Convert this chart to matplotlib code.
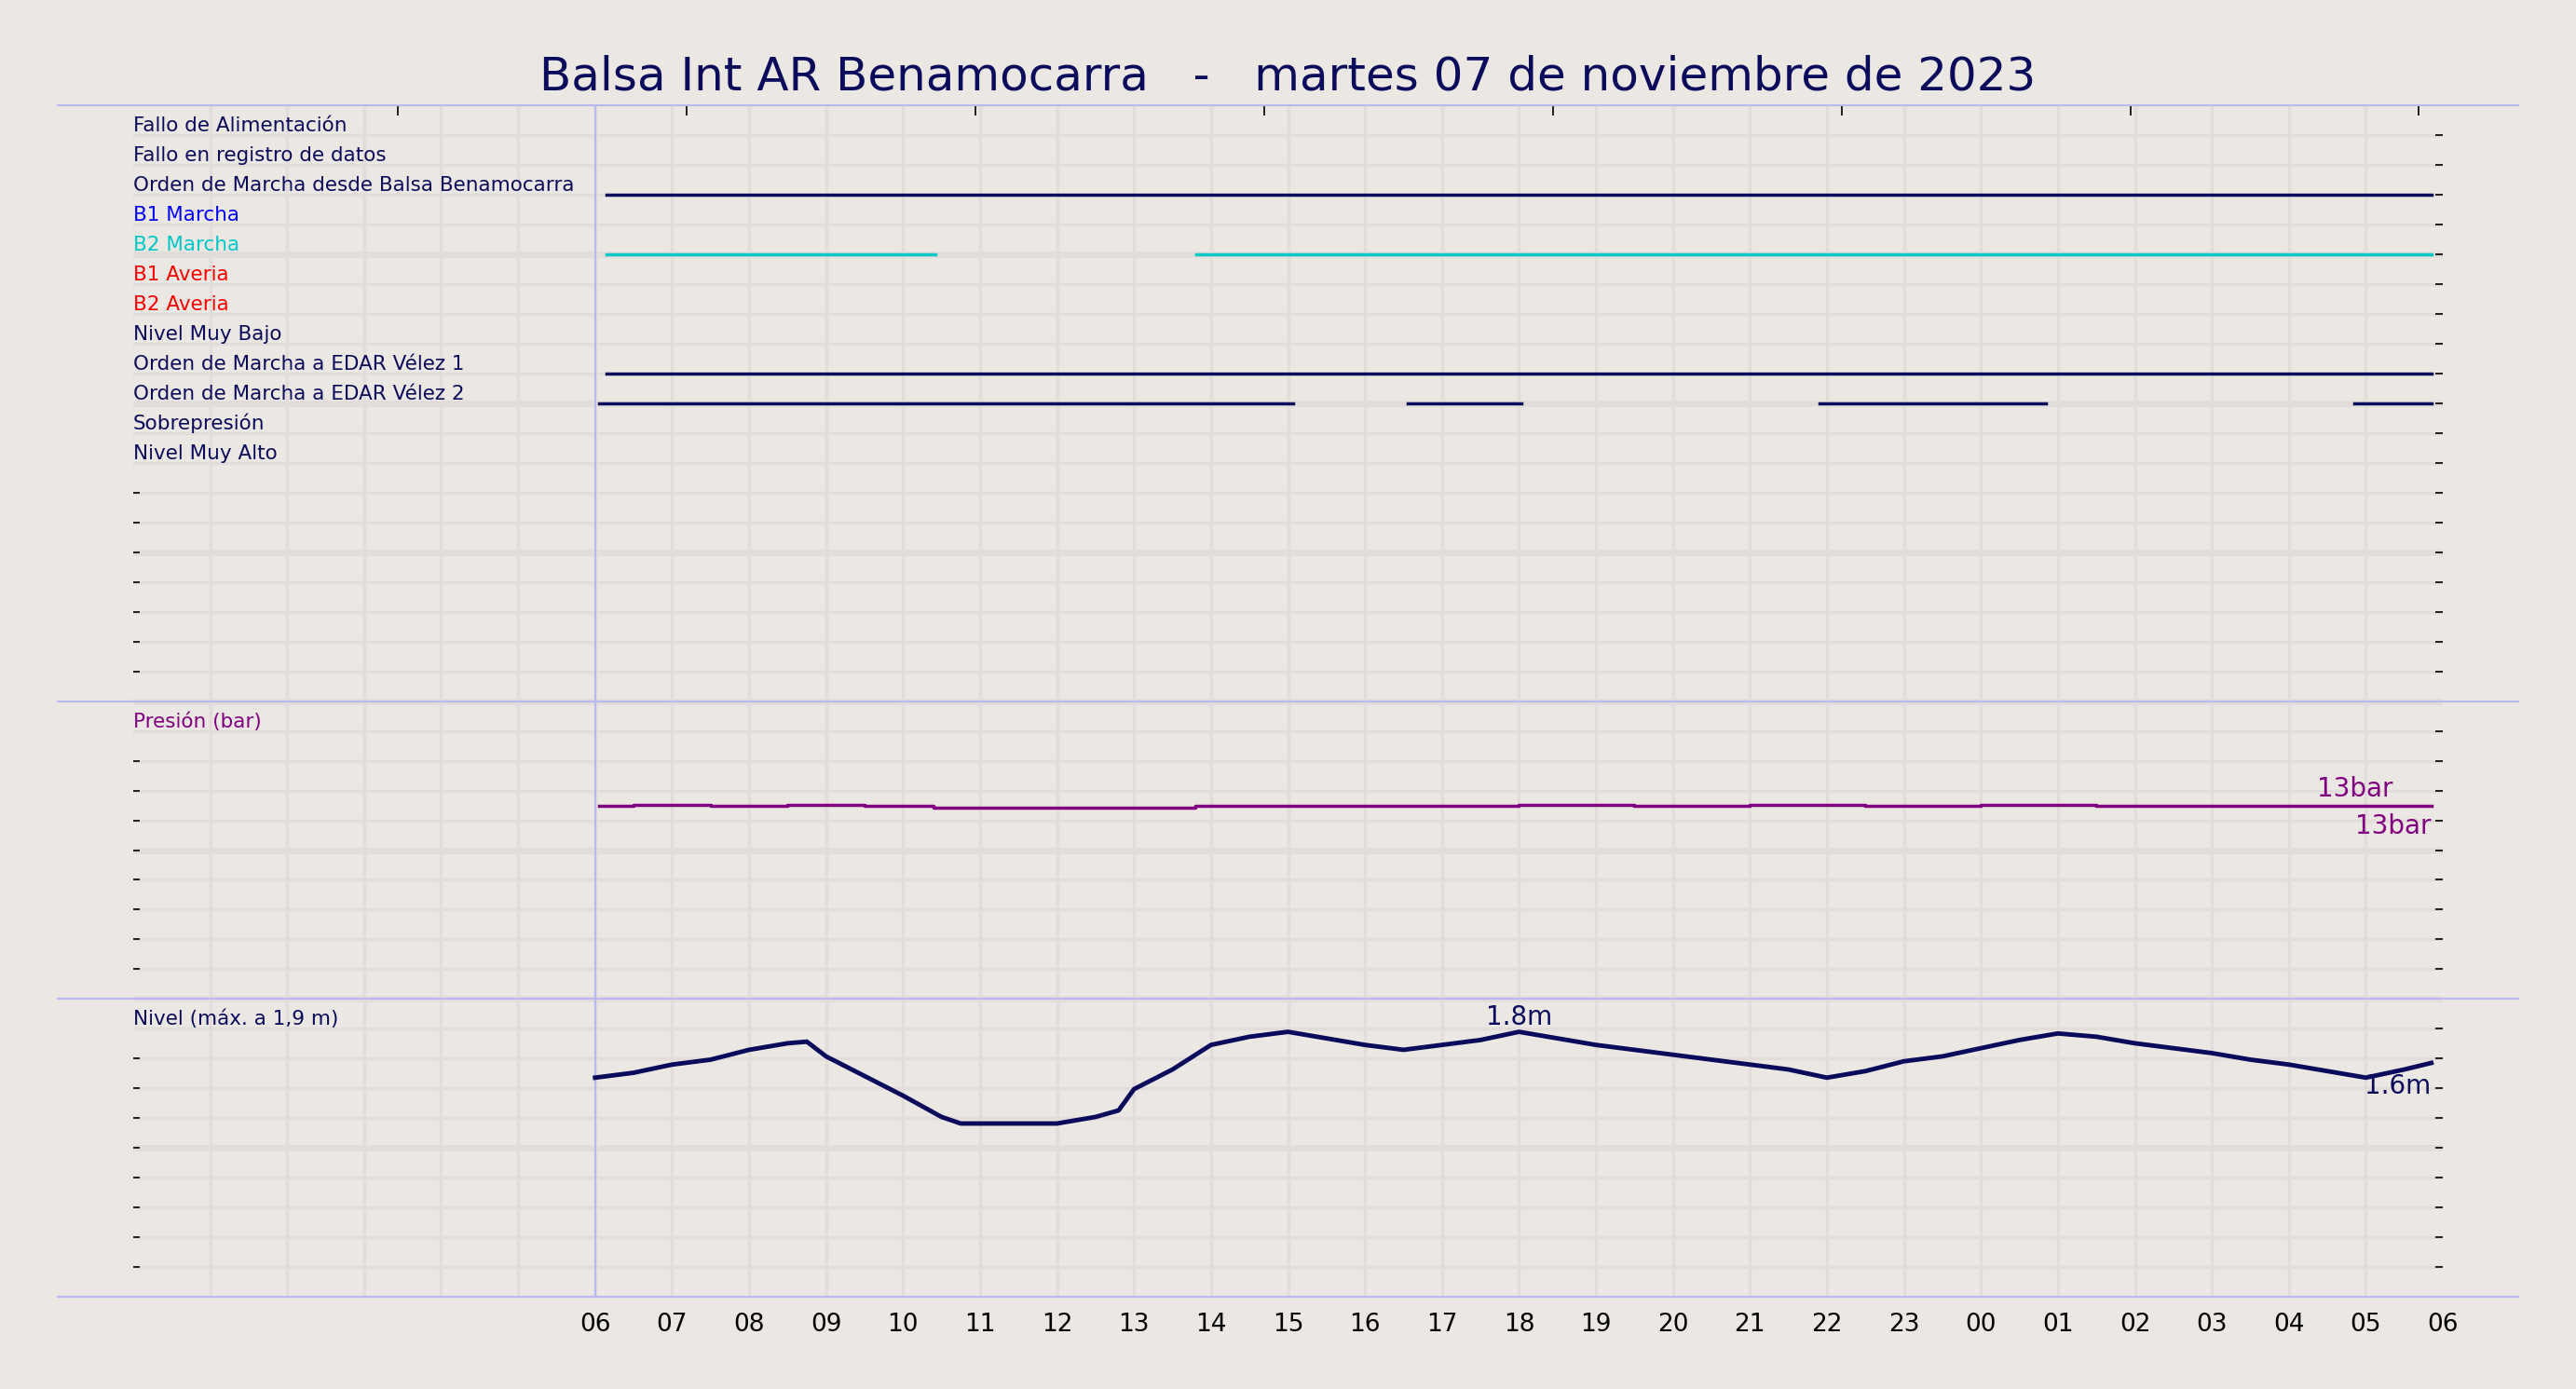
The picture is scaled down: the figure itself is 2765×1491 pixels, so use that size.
import matplotlib.pyplot as plt
from matplotlib.lines import Line2D
from matplotlib.transforms import blended_transform_factory

BG = "#ebe7e2"
GRID = "#e2dcda"
SEP = "#b8b8f2"
NAVY = "#0b0b5c"
PURPLE = "#800080"

title = "Balsa Int AR Benamocarra   -   martes 07 de noviembre de 2023"

# digital signals: label, colour, list of (start, end) hours after 06:00
signal_names = ["Fallo de Alimentación", "Fallo en registro de datos",
                "Orden de Marcha desde Balsa Benamocarra", "B1 Marcha", "B2 Marcha",
                "B1 Averia", "B2 Averia", "Nivel Muy Bajo",
                "Orden de Marcha a EDAR Vélez 1", "Orden de Marcha a EDAR Vélez 2",
                "Sobrepresión", "Nivel Muy Alto"]
signal_colors = [NAVY, NAVY, NAVY, "#0000ff", "#00c8c8", "#ff0000", "#ff0000",
                 NAVY, NAVY, NAVY, NAVY, NAVY]
signal_on = [[], [], [(0.15, 23.85)], [], [(0.15, 4.42), (7.81, 23.85)], [], [], [],
             [(0.15, 23.85)],
             [(0.05, 9.07), (10.55, 12.03), (15.9, 18.85), (22.85, 23.85)],
             [], []]

# pressure (bar)
p_t = [0.05, 0.5, 1.5, 2.5, 3.5, 4.4, 5.5, 6.5, 7.0, 7.8, 9, 10.5, 12, 13.5, 15, 16.5,
       18, 19.5, 21, 22.5, 23.85]
p_v = [13.0, 13.02, 13.0, 13.02, 13.0, 12.82, 12.82, 12.84, 12.82, 13.0, 13.0, 13.0,
       13.02, 13.0, 13.02, 13.0, 13.02, 13.0, 13.0, 13.0, 13.0]

# level (m), half-hour samples
lvl_t = [0, 0.5, 1, 1.5, 2, 2.5, 2.75, 3, 3.5, 4, 4.5, 4.75, 5, 6, 6.5, 6.8, 7, 7.5, 8,
         8.5, 9, 9.5, 10, 10.5, 11, 11.5, 12, 12.5, 13, 13.5, 14, 14.5, 15, 15.5, 16,
         16.5, 17, 17.5, 18, 18.5, 19, 19.5, 20, 20.5, 21, 21.5, 22, 22.5, 23, 23.5, 23.85]
lvl_px = [656, 653, 648, 645, 639, 635, 634, 643, 655, 667, 680, 684, 684, 684, 680, 676,
          663, 651, 636, 631, 628, 632, 636, 639, 636, 633, 628, 632, 636, 639, 642, 645,
          648, 651, 656, 652, 646, 643, 638, 633, 629, 631, 635, 638, 641, 645, 648, 652,
          656, 651, 647]
lvl_v = [(790 - y) / 91.0 for y in lvl_px]

hour_labels = ["%02d" % ((6 + h) % 24) for h in range(25)]
top_ticks = [-2.56 + 3.75 * k for k in range(8)]

fig = plt.figure(figsize=(27.65, 14.91), dpi=100, facecolor=BG)
ax = fig.add_axes([0.0517, 0.0662, 0.8966, 0.8581], facecolor=BG)
ax.set_xlim(-6, 24)
ax.set_ylim(40, 0)

for k in range(1, 40):
    ax.axhline(k, color=GRID, lw=5 if k % 5 == 0 else 2.5, zorder=0)
for h in range(-5, 24):
    ax.axvline(h, color=GRID, lw=2.5, zorder=0)
ax.axvline(0, color=SEP, lw=1.5, zorder=1)

tr = blended_transform_factory(ax.transAxes, ax.transData)
for k, name in enumerate(signal_names):
    ax.text(0.0, k + 1.0, name, color=signal_colors[k], fontsize=15.5,
            transform=tr, va="bottom", ha="left")
    for a, b in signal_on[k]:
        ax.plot([a, b], [k + 1, k + 1], color=signal_colors[k], lw=2.5, zorder=3)

ax.text(0.0, 21.0, "Presión (bar)", color=PURPLE, fontsize=15.5, transform=tr,
        va="bottom", ha="left")
ax.step(p_t, [30 - v / 2 for v in p_v], where="post", color=PURPLE, lw=2.5, zorder=3)
ax.text(23.35, 23.4, "%dbar" % round(max(p_v)), color=PURPLE, fontsize=20,
        ha="right", va="bottom")
ax.text(23.85, 23.75, "%dbar" % round(p_v[-1]), color=PURPLE, fontsize=20,
        ha="right", va="top")

ax.text(0.0, 31.0, "Nivel (máx. a 1,9 m)", color=NAVY, fontsize=15.5, transform=tr,
        va="bottom", ha="left")
ax.plot(lvl_t, [40 - v * 5 for v in lvl_v], color=NAVY, lw=3.5, zorder=3)
imax = len(lvl_v) - 1 - lvl_v[::-1].index(max(lvl_v))
ax.text(lvl_t[imax], 40 - lvl_v[imax] * 5 - 0.05, "%.1fm" % lvl_v[imax], color=NAVY,
        fontsize=20, ha="center", va="bottom")
ax.text(23.85, 40 - lvl_v[-1] * 5 + 0.35, "%.1fm" % lvl_v[-1], color=NAVY, fontsize=20,
        ha="right", va="top")

ax.set_xticks(range(25))
ax.set_xticklabels(hour_labels, fontsize=19)
ax.tick_params(axis="x", length=0, pad=12)
ax.set_yticks([k for k in range(1, 40) if k > 12 and k % 10 != 0 and k != 21 and k != 31])
ax.set_yticklabels([])
ax.tick_params(axis="y", direction="in", length=5, width=1.2)
for s in ax.spines.values():
    s.set_visible(False)

axr = ax.twinx()
axr.set_ylim(40, 0)
axr.set_yticks(range(1, 40))
axr.set_yticklabels([])
axr.tick_params(axis="y", direction="in", length=6, width=1.2)
for s in axr.spines.values():
    s.set_visible(False)

axt = ax.twiny()
axt.set_xlim(-6, 24)
axt.set_xticks(top_ticks)
axt.set_xticklabels([])
axt.tick_params(axis="x", direction="in", length=8, width=1.2)
for s in axt.spines.values():
    s.set_visible(False)

for yf in [0.9243, 0.4953, 0.2813, 0.0662]:
    fig.add_artist(Line2D([0.0223, 0.9777], [yf, yf], color=SEP, lw=1.5))

fig.text(0.5, 0.945, title, color=NAVY, fontsize=36, ha="center", va="center")

fig.savefig("out.png", dpi=100, facecolor=BG)
